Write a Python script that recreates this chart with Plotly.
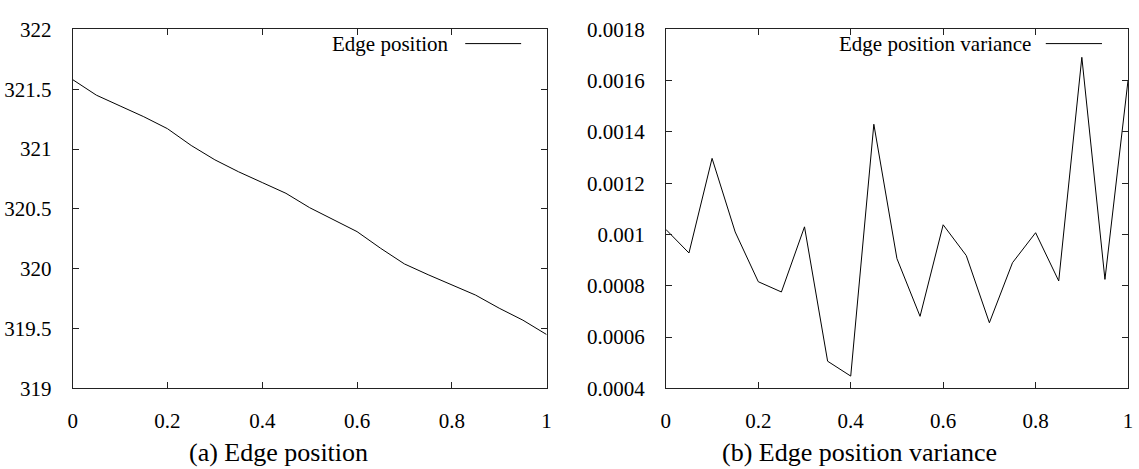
import plotly.graph_objects as go

# ---- data ----
x_vals = [0.0, 0.05, 0.1, 0.15, 0.2, 0.25, 0.3, 0.35, 0.4, 0.45, 0.5,
          0.55, 0.6, 0.65, 0.7, 0.75, 0.8, 0.85, 0.9, 0.95, 1.0]
edge_position = [321.58, 321.45, 321.36, 321.27, 321.17, 321.03, 320.91, 320.81,
                 320.72, 320.63, 320.51, 320.41, 320.31, 320.17, 320.04, 319.95,
                 319.865, 319.78, 319.67, 319.57, 319.45]
edge_variance = [0.00102, 0.000928, 0.001297, 0.00101, 0.000816, 0.000776, 0.00103,
                 0.000506, 0.000448, 0.00143, 0.000906, 0.000681, 0.001038, 0.000918,
                 0.000656, 0.00089, 0.001007, 0.000819, 0.001691, 0.000825, 0.001602]

x_ticks = [0, 0.2, 0.4, 0.6, 0.8, 1]
x_tick_labels = ["0", "0.2", "0.4", "0.6", "0.8", "1"]
pos_ticks = [319, 319.5, 320, 320.5, 321, 321.5, 322]
pos_tick_labels = ["319", "319.5", "320", "320.5", "321", "321.5", "322"]
var_ticks = [0.0004, 0.0006, 0.0008, 0.001, 0.0012, 0.0014, 0.0016, 0.0018]
var_tick_labels = ["0.0004", "0.0006", "0.0008", "0.001", "0.0012", "0.0014", "0.0016", "0.0018"]

series_names = ["Edge position", "Edge position variance"]
captions = ["(a) Edge position", "(b) Edge position variance"]

# ---- layout ----
W, H = 1139, 469
FONT = "Liberation Serif"
TICK_SIZE = 21

def px_x(p):
    return p / W

def px_y(p):
    return (H - p) / H

fig = go.Figure()
fig.add_trace(go.Scatter(x=x_vals, y=edge_position, mode="lines",
                         line=dict(color="black", width=1), name=series_names[0],
                         xaxis="x", yaxis="y", showlegend=False))
fig.add_trace(go.Scatter(x=x_vals, y=edge_variance, mode="lines",
                         line=dict(color="black", width=1), name=series_names[1],
                         xaxis="x2", yaxis="y2", showlegend=False))

def axis_style():
    return dict(showgrid=False, zeroline=False, showline=True, linecolor="#222",
                linewidth=1, mirror="ticks", ticks="inside", ticklen=6,
                tickcolor="#222",
                tickfont=dict(family=FONT, size=TICK_SIZE, color="black"))

y_dom = [px_y(396.7), px_y(18.3)]
fig.update_layout(
    width=W, height=H,
    margin=dict(l=0, r=0, t=0, b=0),
    paper_bgcolor="white", plot_bgcolor="white",
    font=dict(family=FONT, color="black"),
    xaxis=dict(domain=[px_x(68.3), px_x(546.4)], range=[0, 1], tickvals=x_ticks,
               ticktext=x_tick_labels, anchor="y", ticklabelstandoff=13, **axis_style()),
    yaxis=dict(domain=y_dom, range=[319, 322], tickvals=pos_ticks,
               ticktext=pos_tick_labels, anchor="x", ticklabelstandoff=16, **axis_style()),
    xaxis2=dict(domain=[px_x(666.7), px_x(1133)], range=[0, 1], tickvals=x_ticks,
                ticktext=x_tick_labels, anchor="y2", ticklabelstandoff=13, **axis_style()),
    yaxis2=dict(domain=y_dom, range=[0.0004, 0.0018], tickvals=var_ticks,
                ticktext=var_tick_labels, anchor="x2", ticklabelstandoff=16, **axis_style()),
)

# legends (gnuplot style: text then line sample)
legend_y = px_y(33.3)
for text_right, line_x0, line_x1, name in [(450, 464.3, 520.7, series_names[0]),
                                            (1036.7, 1050, 1106.7, series_names[1])]:
    fig.add_annotation(x=px_x(text_right), y=legend_y, xref="paper", yref="paper",
                       text=name, showarrow=False, xanchor="right", yanchor="middle",
                       font=dict(family=FONT, size=21, color="black"))
    fig.add_shape(type="line", xref="paper", yref="paper",
                  x0=px_x(line_x0), x1=px_x(line_x1), y0=legend_y, y1=legend_y,
                  line=dict(color="black", width=1))

# captions
for cx, cap in [(275.7, captions[0]), (862.5, captions[1])]:
    fig.add_annotation(x=px_x(cx), y=0, xref="paper", yref="paper",
                       text=cap, showarrow=False, xanchor="center", yanchor="bottom",
                       yshift=-12, font=dict(family=FONT, size=26, color="black"))

fig.write_html("out.html")
